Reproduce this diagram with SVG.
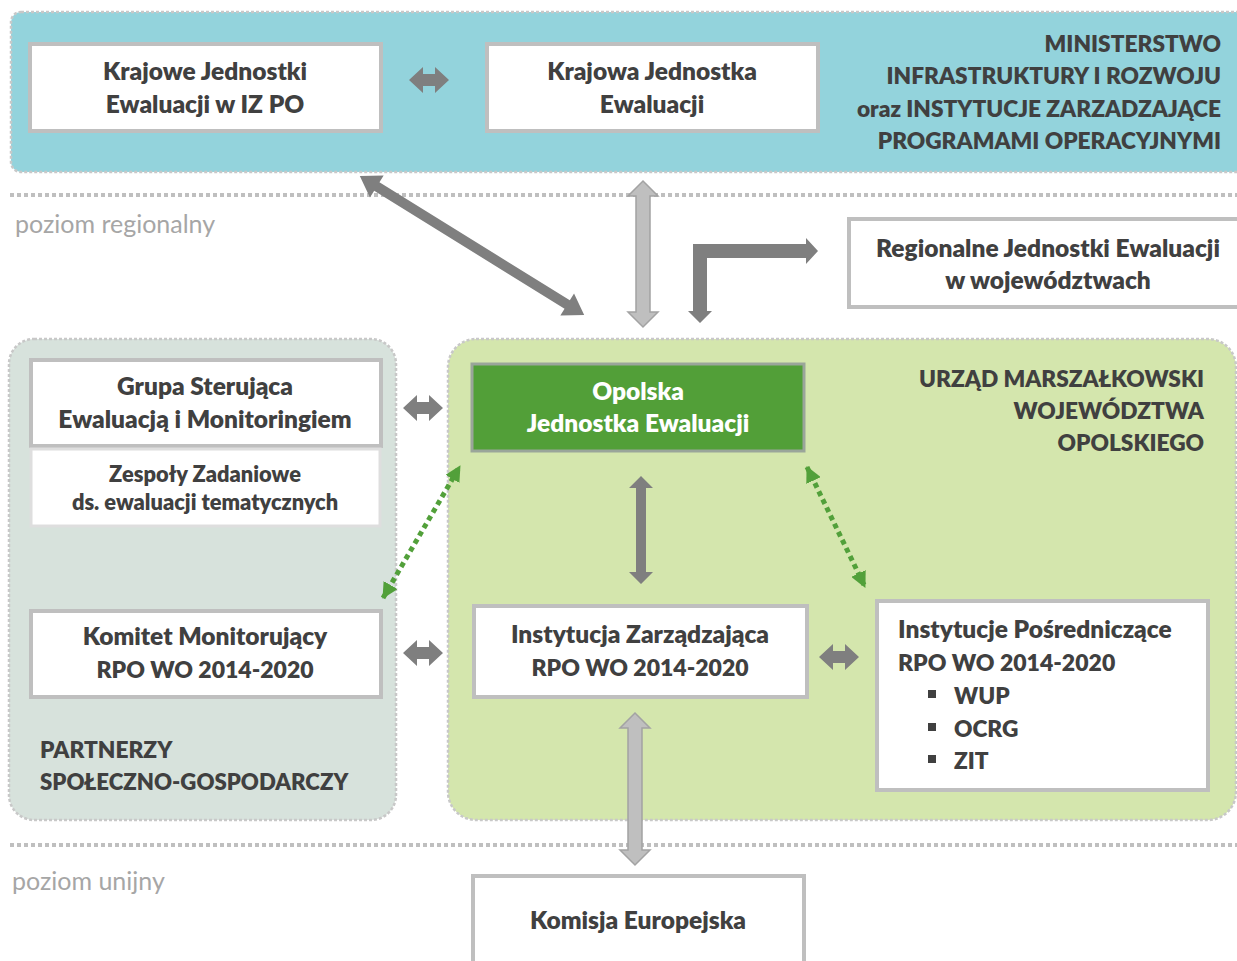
<svg xmlns="http://www.w3.org/2000/svg" width="1237" height="961" viewBox="0 0 1237 961">
<style>
.region{stroke:#c8c8c8;stroke-width:2.5;stroke-dasharray:3 2}
.box{fill:#fff;stroke:#bfbfbf;stroke-width:4}
.t{font-family:Lato,"Open Sans","Liberation Sans",sans-serif;font-weight:800;font-size:24.5px;fill:#404040}
.u{font-size:22.7px}
.n{font-size:23px}
.c{text-anchor:middle}
.r{text-anchor:end}
.lvl{font-family:Lato,"Open Sans","Liberation Sans",sans-serif;font-size:25px;fill:#a6a6a6}
.level{stroke:#bfbfbf;stroke-width:4;stroke-dasharray:4 3;fill:none}
.dk{fill:#7f7f7f}
.lt{fill:#bfbfbf;stroke:#a3a3a3;stroke-width:1.5}
.gd{stroke:#52a03a;stroke-width:5;stroke-dasharray:5 4;fill:none;marker-start:url(#gh);marker-end:url(#gh)}
</style>
<defs>
<path id="hdbl" d="M-20,0 L-6,-13 L-6,-6 L6,-6 L6,-13 L20,0 L6,13 L6,6 L-6,6 L-6,13 Z"/>
<marker id="gh" viewBox="0 0 16 16" refX="15" refY="8" markerWidth="16" markerHeight="16" markerUnits="userSpaceOnUse" orient="auto-start-reverse">
<path d="M0,0 L16,8 L0,16 Z" fill="#52a03a"/>
</marker>
</defs>
<rect width="1237" height="961" fill="#fff"/>

<g id="levels">
<line class="level" x1="10" y1="195" x2="1237" y2="195"/>
<line class="level" x1="10" y1="845" x2="1237" y2="845"/>
<text class="lvl" x="15" y="233">poziom regionalny</text>
<text class="lvl" x="12" y="890">poziom unijny</text>
</g>

<g id="region-ministerstwo">
<rect class="region" x="11" y="12" width="1250" height="160" rx="10" fill="#93d3dc"/>
<text class="t u r" x="1221" y="52">MINISTERSTWO</text>
<text class="t u r" x="1221" y="84">INFRASTRUKTURY I ROZWOJU</text>
<text class="t u r" x="1221" y="117">oraz INSTYTUCJE ZARZADZAJĄCE</text>
<text class="t u r" x="1221" y="149">PROGRAMAMI OPERACYJNYMI</text>
</g>

<g id="region-partnerzy">
<rect class="region" x="9" y="339" width="387" height="481" rx="25" fill="#d7e2dc"/>
<text class="t u" x="40" y="758">PARTNERZY</text>
<text class="t u" x="40" y="790" style="font-size:22.2px">SPOŁECZNO-GOSPODARCZY</text>
</g>

<g id="region-urzad">
<rect class="region" x="448" y="339" width="788" height="481" rx="28" fill="#d4e6ad"/>
<text class="t u r" x="1204" y="387">URZĄD MARSZAŁKOWSKI</text>
<text class="t u r" x="1204" y="419">WOJEWÓDZTWA</text>
<text class="t u r" x="1204" y="451">OPOLSKIEGO</text>
</g>

<g id="node-krajowe">
<rect class="box" x="30" y="44" width="351" height="87"/>
<text class="t c" x="205" y="80">Krajowe Jednostki</text>
<text class="t c" x="205" y="113">Ewaluacji w IZ PO</text>
</g>

<g id="node-kje">
<rect class="box" x="487" y="44" width="331" height="87"/>
<text class="t c" x="652" y="80">Krajowa Jednostka</text>
<text class="t c" x="652" y="113">Ewaluacji</text>
</g>

<g id="node-regionalne">
<rect class="box" x="849" y="219" width="400" height="88"/>
<text class="t c" x="1048" y="257">Regionalne Jednostki Ewaluacji</text>
<text class="t c" x="1048" y="289">w województwach</text>
</g>

<g id="node-opolska">
<rect x="472" y="364" width="332" height="87" fill="#529f38" stroke="#9aa59a" stroke-width="3"/>
<text class="t c" x="638" y="400" style="fill:#fff">Opolska</text>
<text class="t c" x="638" y="432" style="fill:#fff">Jednostka Ewaluacji</text>
</g>

<g id="node-grupa">
<rect class="box" x="31" y="360" width="350" height="86"/>
<text class="t c" x="205" y="395">Grupa Sterująca</text>
<text class="t c" x="205" y="428">Ewaluacją i Monitoringiem</text>
</g>

<g id="node-zespoly">
<rect x="31" y="449" width="349" height="77" fill="#fff" stroke="#dedede" stroke-width="3"/>
<text class="t c" x="205" y="482" style="font-size:21.8px">Zespoły Zadaniowe</text>
<text class="t c" x="205" y="510" style="font-size:21.8px">ds. ewaluacji tematycznych</text>
</g>

<g id="node-komitet">
<rect class="box" x="31" y="611" width="350" height="86"/>
<text class="t c" x="205" y="645">Komitet Monitorujący</text>
<text class="t n c" x="205" y="678">RPO WO 2014-2020</text>
</g>

<g id="node-iz">
<rect class="box" x="474" y="606" width="333" height="91"/>
<text class="t c" x="640" y="643">Instytucja Zarządzająca</text>
<text class="t n c" x="640" y="676">RPO WO 2014-2020</text>
</g>

<g id="node-ip">
<rect class="box" x="877" y="601" width="331" height="189"/>
<text class="t" x="898" y="638">Instytucje Pośredniczące</text>
<text class="t n" x="898" y="671">RPO WO 2014-2020</text>
<rect x="928" y="690" width="8" height="8" fill="#404040"/>
<rect x="928" y="723" width="8" height="8" fill="#404040"/>
<rect x="928" y="755" width="8" height="8" fill="#404040"/>
<text class="t u" x="954" y="704">WUP</text>
<text class="t u" x="954" y="737">OCRG</text>
<text class="t u" x="954" y="769">ZIT</text>
</g>

<g id="node-komisja">
<rect class="box" x="473" y="876" width="331" height="110"/>
<text class="t c" x="638" y="929">Komisja Europejska</text>
</g>

<g id="connectors">
<use href="#hdbl" class="dk" transform="translate(429,80)"/>
<use href="#hdbl" class="dk" transform="translate(423,408)"/>
<use href="#hdbl" class="dk" transform="translate(423,653)"/>
<use href="#hdbl" class="dk" transform="translate(839,657)"/>
<path class="dk" d="M-132,0 L-112,-13 L-112,-5 L112,-5 L112,-13 L132,0 L112,13 L112,5 L-112,5 L-112,13 Z" transform="translate(472,245.5) rotate(31.8)"/>
<path class="dk" d="M641,476 L653,488 L646,488 L646,572 L653,572 L641,584 L629,572 L636,572 L636,488 L629,488 Z"/>
<path class="dk" d="M693,244 L806,244 L806,238 L818,251 L806,264 L806,258 L707,258 L707,311 L712,311 L700,323 L688,311 L693,311 Z"/>
<path class="lt" d="M643,181 L658,196 L650,196 L650,312 L658,312 L643,327 L628,312 L636,312 L636,196 L628,196 Z"/>
<path class="lt" d="M635,713 L650,728 L642,728 L642,850 L650,850 L635,865 L620,850 L628,850 L628,728 L620,728 Z"/>
<line class="gd" x1="383" y1="598" x2="460" y2="466"/>
<line class="gd" x1="807" y1="467" x2="865" y2="587"/>
</g>
</svg>
